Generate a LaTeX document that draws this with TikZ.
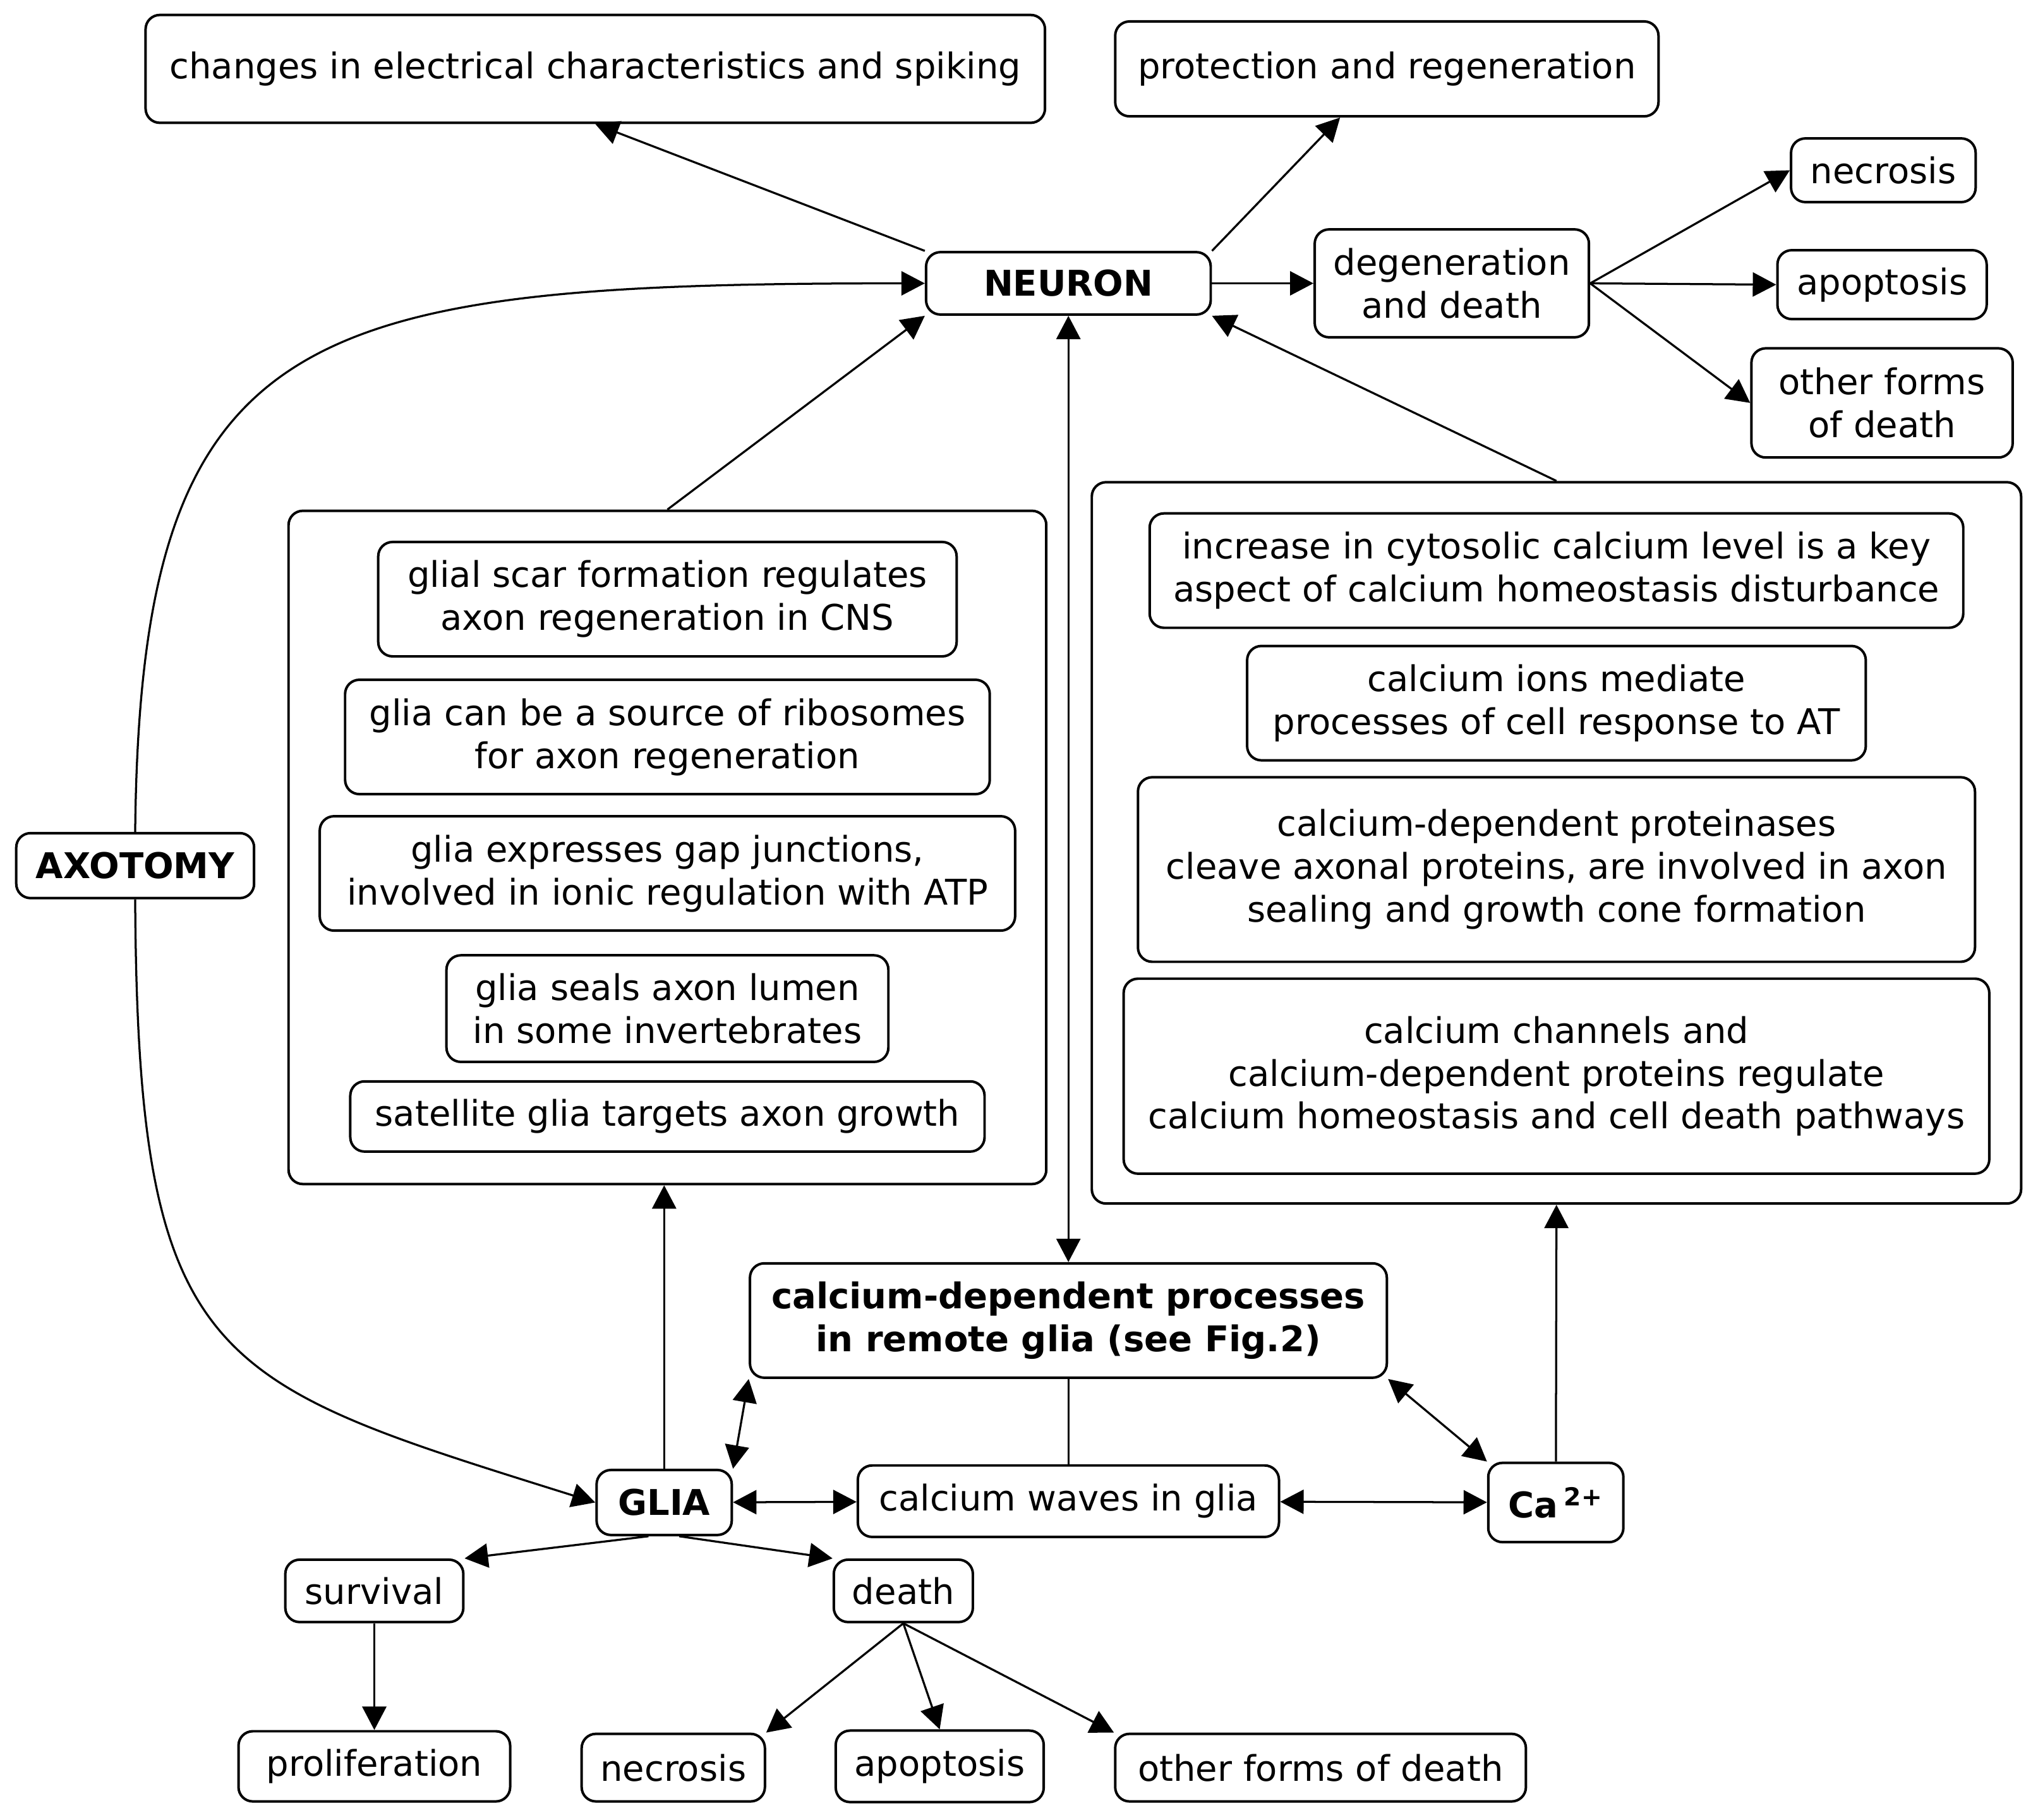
\documentclass[tikz,border=0pt]{standalone}
\usepackage{fontspec}
\setmainfont{DejaVu Sans}
\usepackage{tikz}
\usetikzlibrary{positioning,arrows.meta,calc}

\begin{document}
\begin{tikzpicture}[every node/.style={font=\fontsize{15.5}{18.8}\selectfont},
  box/.style={draw, line width=1.1pt, rounded corners=0.22cm, align=center, inner sep=2pt},
  bold/.style={font=\fontsize{15.5}{18.8}\selectfont\bfseries},
  arr/.style={line width=0.9pt, -{Triangle[length=3.6mm, width=3.7mm]}},
  dbl/.style={line width=0.9pt, {Triangle[length=3.6mm, width=3.7mm]}-{Triangle[length=3.6mm, width=3.7mm]}}]
  \useasboundingbox (0,0) rectangle (31.36,-28);

  % neuron side
  \node[box, minimum width=13.84cm, minimum height=1.66cm] (changes) at (9.16,-1.06) {changes in electrical characteristics and spiking};
  \node[box, minimum width=8.36cm, minimum height=1.46cm] (protect) at (21.34,-1.06) {protection and regeneration};
  \node[box, bold, minimum width=4.38cm, minimum height=0.96cm] (neuron) at (16.44,-4.36) {NEURON};
  \node[box, minimum width=4.22cm, minimum height=1.66cm] (degen) at (22.34,-4.36) {degeneration\\and death};
  \node[box, minimum width=2.84cm, minimum height=0.98cm] (necA) at (28.98,-2.62) {necrosis};
  \node[box, minimum width=3.22cm, minimum height=1.06cm] (apoA) at (28.96,-4.38) {apoptosis};
  \node[box, minimum width=4.02cm, minimum height=1.68cm] (othA) at (28.96,-6.2) {other forms\\of death};

  % glia container
  \node[box, minimum width=11.66cm, minimum height=10.36cm] (lbox) at (10.27,-13.04) {};
  \node[box, minimum width=8.9cm, minimum height=1.76cm] (g1) at (10.27,-9.22) {glial scar formation regulates\\axon regeneration in CNS};
  \node[box, minimum width=9.92cm, minimum height=1.76cm] (g2) at (10.27,-11.34) {glia can be a source of ribosomes\\for axon regeneration};
  \node[box, minimum width=10.7cm, minimum height=1.76cm] (g3) at (10.27,-13.44) {glia expresses gap junctions,\\involved in ionic regulation with ATP};
  \node[box, minimum width=6.8cm, minimum height=1.64cm] (g4) at (10.27,-15.52) {glia seals axon lumen\\in some invertebrates};
  \node[box, minimum width=9.76cm, minimum height=1.08cm] (g5) at (10.27,-17.18) {satellite glia targets axon growth};

  % calcium container
  \node[box, minimum width=14.3cm, minimum height=11.1cm] (rbox) at (23.95,-12.97) {};
  \node[box, minimum width=12.52cm, minimum height=1.76cm] (c1) at (23.95,-8.78) {increase in cytosolic calcium level is a key\\aspect of calcium homeostasis disturbance};
  \node[box, minimum width=9.52cm, minimum height=1.76cm] (c2) at (23.95,-10.82) {calcium ions mediate\\processes of cell response to AT};
  \node[box, minimum width=12.88cm, minimum height=2.84cm] (c3) at (23.95,-13.38) {calcium-dependent proteinases\\cleave axonal proteins, are involved in axon\\sealing and growth cone formation};
  \node[box, minimum width=13.32cm, minimum height=3.0cm] (c4) at (23.95,-16.56) {calcium channels and\\calcium-dependent proteins regulate\\calcium homeostasis and cell death pathways};

  % lower part
  \node[box, bold, minimum width=3.66cm, minimum height=1.0cm] (axo) at (2.08,-13.32) {AXOTOMY};
  \node[box, bold, minimum width=9.8cm, minimum height=1.76cm] (cdp) at (16.44,-20.32) {calcium-dependent processes\\in remote glia (see Fig.2)};
  \node[box, bold, minimum width=2.08cm, minimum height=1.0cm] (glia) at (10.22,-23.12) {GLIA};
  \node[box, minimum width=6.48cm, minimum height=1.1cm] (waves) at (16.44,-23.1) {calcium waves in glia};
  \node[box, bold, minimum width=2.08cm, minimum height=1.22cm] (ca) at (23.94,-23.12) {Ca\,\textsuperscript{2+}};
  \node[box, minimum width=2.74cm, minimum height=0.96cm] (surv) at (5.76,-24.48) {survival};
  \node[box, minimum width=2.14cm, minimum height=0.96cm] (death) at (13.9,-24.48) {death};
  \node[box, minimum width=4.18cm, minimum height=1.08cm] (prolif) at (5.76,-27.18) {proliferation};
  \node[box, minimum width=2.82cm, minimum height=1.04cm] (necB) at (10.36,-27.2) {necrosis};
  \node[box, minimum width=3.2cm, minimum height=1.1cm] (apoB) at (14.46,-27.18) {apoptosis};
  \node[box, minimum width=6.32cm, minimum height=1.04cm] (othB) at (20.32,-27.2) {other forms of death};

  \draw[arr] (neuron.north west) -- (changes.south);
  \draw[arr] (neuron.north east) -- (protect);
  \draw[arr] (neuron) -- (degen);
  \draw[arr] (degen.east) -- (necA.west);
  \draw[arr] (degen.east) -- (apoA.west);
  \draw[arr] (degen.east) -- (othA.west);
  \draw[arr] (axo.north) .. controls +(0.08,7.82) and +(-9.62,0) .. (neuron.west);
  \draw[arr] (axo.south) .. controls +(0.04,-7.2) and +(-5.92,1.86) .. (glia.west);
  \draw[arr] (lbox.north) -- (neuron.south west);
  \draw[arr] (rbox.north) -- (neuron.south east);
  \draw[dbl] (neuron) -- (cdp);
  \draw[arr] (glia.north) -- (glia.north |- lbox.south);
  \draw[dbl] (glia.north east) -- (cdp.south west);
  \draw[line width=0.9pt] (cdp) -- (waves);
  \draw[dbl] (cdp.south east) -- (ca.north west);
  \draw[dbl] (glia) -- (waves);
  \draw[dbl] (waves) -- (ca);
  \draw[arr] (ca) -- (rbox.south);
  \draw[arr] (glia.-115) -- (surv.north east);
  \draw[arr] (glia.-66) -- (death.north west);
  \draw[arr] (surv) -- (prolif);
  \draw[arr] (death.south) -- (necB.north east);
  \draw[arr] (death.south) -- (apoB.north);
  \draw[arr] (death.south) -- (othB.north west);
\end{tikzpicture}
\end{document}
